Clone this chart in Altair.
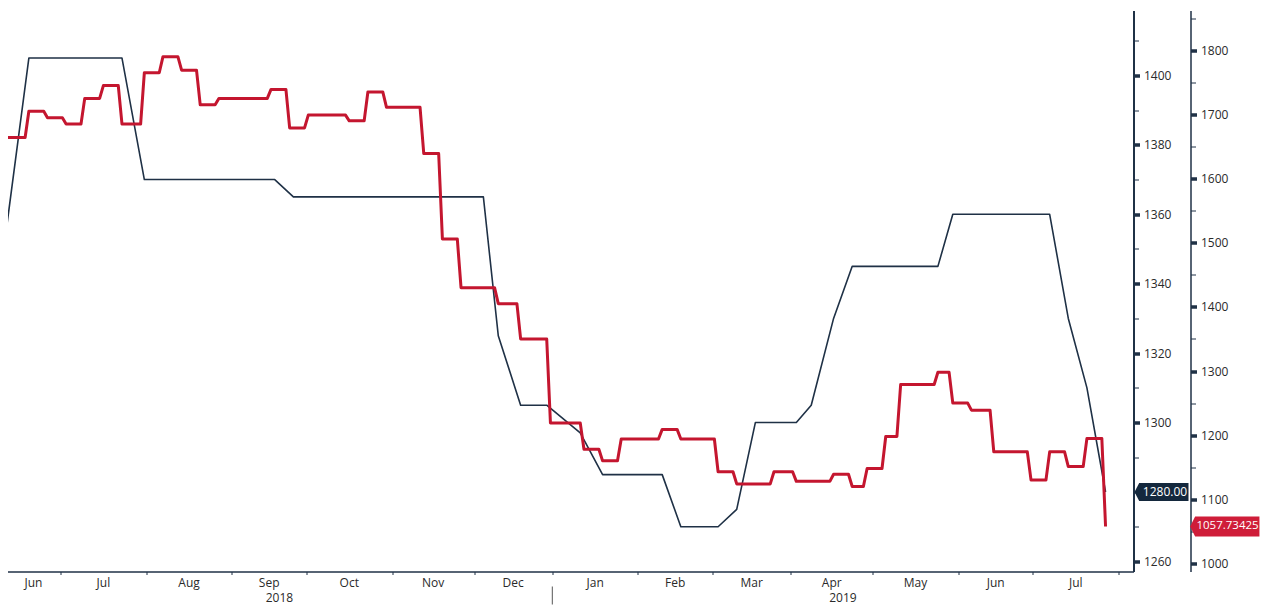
import altair as alt
import numpy as np
import pandas as pd

# ---------------- data ----------------
ORIGIN = "2018-07-02"  # weekday number 0 (first weekday of July 2018)

navy_dates = ["2018-06-08", "2018-06-18", "2018-07-23", "2018-07-31", "2018-09-18",
              "2018-09-25", "2018-12-05", "2018-12-11", "2018-12-19", "2018-12-28",
              "2019-01-10", "2019-01-18", "2019-02-11", "2019-02-18", "2019-03-04",
              "2019-03-11", "2019-03-18", "2019-04-02", "2019-04-08", "2019-04-16",
              "2019-04-23", "2019-05-24", "2019-05-30", "2019-07-05", "2019-07-12",
              "2019-07-19", "2019-07-26"]
navy_values = [1356, 1405, 1405, 1370, 1370,
               1365, 1365, 1325, 1305, 1305,
               1297, 1285, 1285, 1270, 1270,
               1275, 1300, 1300, 1305, 1330,
               1345, 1345, 1360, 1360, 1330,
               1310, 1280]

# red series: date on which each new level starts, and the level
red_dates = ["2018-06-08", "2018-06-18", "2018-06-25", "2018-07-02", "2018-07-09",
             "2018-07-16", "2018-07-23", "2018-07-31", "2018-08-07", "2018-08-14",
             "2018-08-21", "2018-08-28", "2018-09-17", "2018-09-24", "2018-10-01",
             "2018-10-16", "2018-10-23", "2018-10-30", "2018-11-13", "2018-11-20",
             "2018-11-27", "2018-12-11", "2018-12-19", "2018-12-31", "2019-01-11",
             "2019-01-18", "2019-01-25", "2019-02-11", "2019-02-18", "2019-03-04",
             "2019-03-11", "2019-03-25", "2019-04-02", "2019-04-16", "2019-04-23",
             "2019-04-29", "2019-05-06", "2019-05-10", "2019-05-24", "2019-05-30",
             "2019-06-06", "2019-06-14", "2019-06-28", "2019-07-05", "2019-07-12",
             "2019-07-19", "2019-07-26"]
red_values = [1664, 1705, 1695, 1685, 1725,
              1745, 1685, 1765, 1790, 1769,
              1715, 1725, 1739, 1679, 1699,
              1690, 1735, 1711, 1639, 1506,
              1430, 1405, 1350, 1219, 1178,
              1160, 1194, 1209, 1194, 1143,
              1124, 1143, 1128, 1139, 1120,
              1148, 1198, 1279, 1298, 1250,
              1239, 1174, 1130, 1174, 1151,
              1195, 1057.73425]

month_names = ["Jun", "Jul", "Aug", "Sep", "Oct", "Nov", "Dec",
               "Jan", "Feb", "Mar", "Apr", "May", "Jun", "Jul"]
month_starts = ["2018-06-01", "2018-07-01", "2018-08-01", "2018-09-01", "2018-10-01",
                "2018-11-01", "2018-12-01", "2019-01-01", "2019-02-01", "2019-03-01",
                "2019-04-01", "2019-05-01", "2019-06-01", "2019-07-01", "2019-08-01"]
year_names = ["2018", "2019"]
year_starts = ["2018-01-01", "2019-01-01", "2020-01-01"]

# labelled ticks (1280 sits under the last-value tag, so it carries no label)
navy_major = [1260, 1300, 1320, 1340, 1360, 1380, 1400]
navy_minor = [1270, 1280, 1290, 1310, 1330, 1350, 1370, 1390, 1410]
red_major = [1000, 1100, 1200, 1300, 1400, 1500, 1600, 1700, 1800]
red_minor = [1050, 1150, 1250, 1350, 1450, 1550, 1650, 1750, 1850]

# ---------------- helpers ----------------
X_MIN, X_MAX = -16, 286.5
NAVY_DOMAIN = [1257.1, 1418.7]
RED_DOMAIN = [987.5, 1862.0]
W, H = 1127, 561

NAVY = "#1f3146"
RED = "#c4162f"
NAVY_TAG = "#14283d"
RED_TAG = "#cf1d39"
TXT = "#2a2a2a"
FONT = "Open Sans"


def wd(d):
    return int(np.busday_count(ORIGIN, d))


navy_df = pd.DataFrame({"t": [wd(d) for d in navy_dates], "value": navy_values})

rows = []
for i, (d, v) in enumerate(zip(red_dates, red_values)):
    t = wd(d)
    if i > 0:
        rows.append({"t": t - 1, "value": red_values[i - 1]})
    rows.append({"t": t, "value": v})
red_df = pd.DataFrame(rows)

bounds = [max(wd(d) - 0.5, X_MIN) for d in month_starts]
tick_vals = [b for b in bounds if X_MIN < b < X_MAX]
months_df = pd.DataFrame({
    "t": [(bounds[i] + bounds[i + 1]) / 2 for i in range(len(month_names))],
    "label": month_names,
})
yb = [min(max(wd(d) - 0.5, X_MIN), X_MAX) for d in year_starts]
years_df = pd.DataFrame({
    "t": [(yb[i] + yb[i + 1]) / 2 for i in range(len(year_names))],
    "label": year_names,
})
sep_df = pd.DataFrame({"t": [yb[1]]})

xaxis = alt.Axis(values=tick_vals, labels=False, title=None, grid=False,
                 domainColor=NAVY, domainWidth=1.5, tickColor=NAVY,
                 tickSize=3, tickWidth=1)
xenc = alt.X("t:Q", scale=alt.Scale(domain=[X_MIN, X_MAX], nice=False, zero=False),
             axis=xaxis)


def major_axis(values, offset, dw):
    return alt.Axis(orient="right", values=values, offset=offset, title=None, grid=False,
                    format="d", labelOverlap=False,
                    domainColor=NAVY, domainWidth=dw, tickColor=NAVY,
                    tickWidth=3.5, tickSize=6,
                    labelPadding=4, labelFont=FONT, labelFontSize=12, labelColor=TXT)


def minor_axis(values, offset):
    return alt.Axis(orient="right", values=values, offset=offset, title=None, grid=False,
                    labels=False, domain=False, tickColor=NAVY, tickWidth=1, tickSize=5)


navy_scale = alt.Scale(domain=NAVY_DOMAIN, nice=False, zero=False)
red_scale = alt.Scale(domain=RED_DOMAIN, nice=False, zero=False)
y_navy = alt.Y("value:Q", scale=navy_scale, axis=major_axis(navy_major, 0, 2))
y_red = alt.Y("value:Q", scale=red_scale, axis=major_axis(red_major, 57, 1.5))

navy_last = navy_df.tail(1)
red_last = red_df.tail(1)

navy_line = alt.Chart(navy_df).mark_line(
    color=NAVY, strokeWidth=1.6, clip=True, strokeJoin="round"
).encode(x=xenc, y=y_navy)
navy_tag = alt.Chart(navy_last).mark_point(
    shape="M -1 0 L -0.826 -0.333 L 1 -0.333 L 1 0.333 L -0.826 0.333 Z",
    size=2916, filled=True, opacity=1, color=NAVY_TAG
).encode(x=alt.value(1155), y=y_navy)
navy_txt = alt.Chart(navy_last).mark_text(
    color="white", font=FONT, fontSize=12, align="center", baseline="middle"
).encode(x=alt.value(1158.5), y=y_navy, text=alt.Text("value:Q", format=".2f"))
navy_layer = alt.layer(navy_line, navy_tag, navy_txt)

red_line = alt.Chart(red_df).mark_line(
    color=RED, strokeWidth=3, clip=True, strokeJoin="round"
).encode(x=xenc, y=y_red)
red_tag = alt.Chart(red_last).mark_point(
    shape="M -1 0 L -0.856 -0.289 L 1 -0.289 L 1 0.289 L -0.856 0.289 Z",
    size=4802, filled=True, opacity=1, color=RED_TAG
).encode(x=alt.value(1218.3), y=y_red)
red_txt = alt.Chart(red_last).mark_text(
    color="white", font=FONT, fontSize=11.5, align="center", baseline="middle"
).encode(x=alt.value(1221), y=y_red, text=alt.Text("value:Q", format=".5f"))
red_layer = alt.layer(red_line, red_tag, red_txt)

# minor tick axes (same domains, unlabeled)
navy_minor_layer = alt.Chart(navy_df).mark_line(strokeOpacity=0, clip=True).encode(
    x=xenc, y=alt.Y("value:Q", scale=navy_scale, axis=minor_axis(navy_minor, 0)))
red_minor_layer = alt.Chart(red_df).mark_line(strokeOpacity=0, clip=True).encode(
    x=xenc, y=alt.Y("value:Q", scale=red_scale, axis=minor_axis(red_minor, 57)))

months = alt.Chart(months_df).mark_text(
    color=TXT, font=FONT, fontSize=12, align="center", baseline="middle"
).encode(x=xenc, y=alt.value(H + 11), text="label:N")
years = alt.Chart(years_df).mark_text(
    color=TXT, font=FONT, fontSize=12, align="center", baseline="middle"
).encode(x=xenc, y=alt.value(H + 26), text="label:N")
sep = alt.Chart(sep_df).mark_rule(color="#555555", strokeWidth=1).encode(
    x=xenc, y=alt.value(H + 15), y2=alt.value(H + 33))

chart = alt.layer(
    navy_layer, red_layer, navy_minor_layer, red_minor_layer, months, years, sep
).resolve_scale(
    y="independent"
).properties(
    width=W, height=H,
    padding={"left": -1.5, "top": 2.5, "right": 0, "bottom": 0},
    background="white",
).configure_view(stroke=None)

chart.save("out.html", embed_options={"renderer": "svg", "actions": False})
